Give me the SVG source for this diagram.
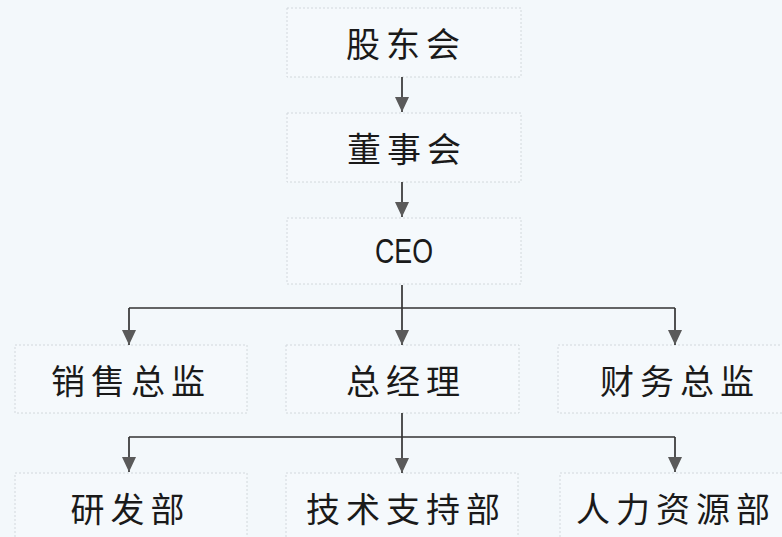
<svg xmlns="http://www.w3.org/2000/svg" width="782" height="537" viewBox="0 0 782 537">
<defs>
<style>
.bg{fill:#f3f8fb}
.box{fill:#f5f9fc;stroke:#d2d8dc;stroke-width:1;stroke-dasharray:2 2}
.cn{font-family:"Noto Sans CJK SC","Noto Sans",sans-serif;font-size:34px;letter-spacing:6px;fill:#1a1a1a;dominant-baseline:central}
.en{font-family:"Liberation Sans",Arial,sans-serif;font-size:35px;fill:#1a1a1a}
.ln{fill:none;stroke:#333;stroke-width:1.7}
</style>
<marker id="ah" viewBox="0 0 15 14" refX="15" refY="7" markerWidth="15" markerHeight="14" markerUnits="userSpaceOnUse" orient="auto">
<path d="M0,0 L15,7 L0,14 z" fill="#5a5a5a"/>
</marker>
</defs>
<rect class="bg" x="0" y="0" width="782" height="537"/>
<g id="n1"><rect class="box" x="287" y="8" width="234" height="69"/><text class="cn" x="346" y="42">股东会</text></g>
<g id="n2"><rect class="box" x="287" y="113" width="234" height="69"/><text class="cn" x="347" y="147">董事会</text></g>
<g id="n3"><rect class="box" x="287" y="218" width="234" height="66"/><text class="en" x="375" y="263" textLength="58" lengthAdjust="spacingAndGlyphs">CEO</text></g>
<g id="n4"><rect class="box" x="15" y="345" width="232" height="68"/><text class="cn" x="51" y="379">销售总监</text></g>
<g id="n5"><rect class="box" x="286" y="345" width="233" height="68"/><text class="cn" x="346" y="379">总经理</text></g>
<g id="n6"><rect class="box" x="558" y="345" width="230" height="68"/><text class="cn" x="600" y="379">财务总监</text></g>
<g id="n7"><rect class="box" x="15" y="473" width="232" height="70"/><text class="cn" x="70.5" y="507">研发部</text></g>
<g id="n8"><rect class="box" x="286" y="473" width="232" height="70"/><text class="cn" x="306" y="507">技术支持部</text></g>
<g id="n9"><rect class="box" x="560" y="473" width="228" height="70"/><text class="cn" x="576" y="507">人力资源部</text></g>
<g id="connectors">
<line class="ln" x1="402" y1="77" x2="402" y2="112" marker-end="url(#ah)"/>
<line class="ln" x1="402" y1="182" x2="402" y2="217" marker-end="url(#ah)"/>
<line class="ln" x1="402" y1="285" x2="402" y2="345" marker-end="url(#ah)"/>
<line class="ln" x1="129" y1="308" x2="675" y2="308"/>
<path class="ln" d="M129,308 V345" marker-end="url(#ah)"/>
<path class="ln" d="M675,308 V345" marker-end="url(#ah)"/>
<line class="ln" x1="402" y1="413" x2="402" y2="473" marker-end="url(#ah)"/>
<line class="ln" x1="129" y1="437" x2="675" y2="437"/>
<path class="ln" d="M129,437 V472" marker-end="url(#ah)"/>
<path class="ln" d="M675,437 V472" marker-end="url(#ah)"/>
</g>
</svg>
